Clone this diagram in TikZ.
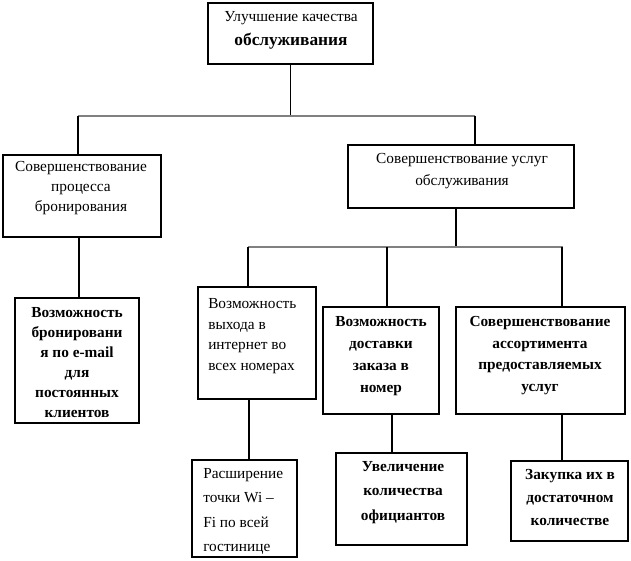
\documentclass[tikz,border=0pt]{standalone}
\usepackage{fontspec}
\setmainfont{Liberation Serif}
\usetikzlibrary{fit}
\begin{document}
\begin{tikzpicture}[x=0.75pt,y=-0.75pt,
 box/.style={draw, line width=0.8pt, inner sep=0pt},
 conn/.style={line width=0.8pt},
 bus/.style={line width=1.2pt, draw=black!50},
 txt/.style={font=\fontsize{11.5}{#1}\selectfont, align=center, inner sep=0pt},
 btxt/.style={font=\fontsize{11.5}{#1}\selectfont\bfseries, align=center, inner sep=0pt},
]
\useasboundingbox (0,0) rectangle (631,560);
% boxes
\node[box, fit={(208,3) (373,64)}] (top) {};
\node[box, fit={(3,155) (161,237)}] (L) {};
\node[box, fit={(348,145) (574,208)}] (R) {};
\node[box, fit={(15,298) (139,423)}] (B) {};
\node[box, fit={(198,287) (316,399)}] (W) {};
\node[box, fit={(323,307) (439,414)}] (D) {};
\node[box, fit={(456,307) (625,414)}] (S) {};
\node[box, fit={(192,460) (297,557)}] (E) {};
\node[box, fit={(336,453) (467,545)}] (U) {};
\node[box, fit={(511,461) (628,541)}] (Z) {};
% texts
\node[txt=18pt] (ttop) at (291,30) {Улучшение качества\\{\fontsize{13}{18}\selectfont\bfseries обслуживания}};
\node[txt=15pt] (tL) at (81,188) {Совершенствование\\процесса\\бронирования};
\node[txt=16.5pt] (tR) at (462,171) {Совершенствование услуг\\обслуживания};
\node[btxt=15pt] (tB) at (77,363) {Возможность\\бронировани\\я по e-mail\\для\\постоянных\\клиентов};
\node[txt=15.5pt, align=left, anchor=west] (tW) at (208,336) {Возможность\\выхода в\\интернет во\\всех номерах};
\node[btxt=16.5pt] (tD) at (381,356) {Возможность\\доставки\\заказа в\\номер};
\node[btxt=16.3pt] (tS) at (540,355.5) {Совершенствование\\ассортимента\\предоставляемых\\услуг};
\node[txt=18.2pt, align=left, anchor=west] (tE) at (203,511.5) {Расширение\\точки Wi –\\Fi по всей\\гостинице};
\node[btxt=18.4pt] (tU) at (403,492.5) {Увеличение\\количества\\официантов};
\node[btxt=16.9pt] (tZ) at (570,497.5) {Закупка их в\\достаточном\\количестве};
% junction coordinates
\coordinate (bL) at (78,116);
\coordinate (bR) at (475,116);
\coordinate (b2l) at (248,247);
\coordinate (b2m) at (456,247);
\coordinate (b2r) at (563,247);
\coordinate (b2d) at (387,247);
\coordinate (b2s) at (562,247);
\coordinate (xL) at (79,0);
\coordinate (xW) at (249,0);
\coordinate (xD) at (392,0);
\coordinate (xS) at (562,0);
% connectors
\draw[conn] (top.south) -- (top.south |- bL);
\draw[bus] (bL) -- (bR);
\draw[conn] (bL) -- (bL |- L.north);
\draw[conn] (bR) -- (bR |- R.north);
\draw[conn] (R.south -| b2m) -- (b2m);
\draw[bus] (b2l) -- (b2r);
\draw[conn] (b2l) -- (b2l |- W.north);
\draw[conn] (b2d) -- (b2d |- D.north);
\draw[conn] (b2s) -- (b2s |- S.north);
\draw[conn] (L.south -| xL) -- (B.north -| xL);
\draw[conn] (W.south -| xW) -- (E.north -| xW);
\draw[conn] (D.south -| xD) -- (U.north -| xD);
\draw[conn] (S.south -| xS) -- (Z.north -| xS);
\end{tikzpicture}
\end{document}
